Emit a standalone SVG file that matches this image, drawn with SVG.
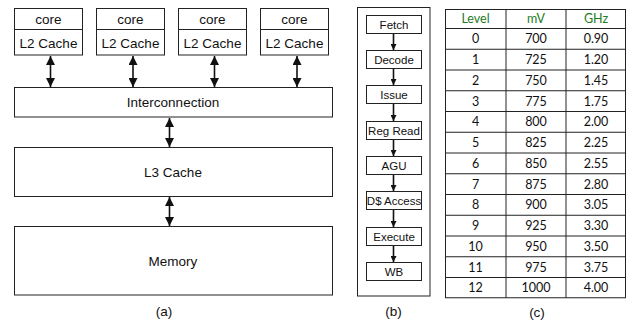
<svg xmlns="http://www.w3.org/2000/svg" width="627" height="324" viewBox="0 0 627 324">
  <style>
    .box { fill: #fff; stroke: #222; stroke-width: 1; }
    .t { font-family: "Liberation Sans", Arial, sans-serif; fill: #111; text-anchor: middle; }
    .ta { font-size: 13.5px; }
    .tb { font-size: 11.5px; }
    .cap { font-size: 13.5px; }
    .tc { font-family: Lato, "Open Sans", sans-serif; font-size: 12.5px; fill: #111; text-anchor: middle; }
    .hdr { fill: #1e7b1e; }
    .link { stroke: #111; stroke-width: 1.6; fill: none; }
    .grid { stroke: #222; stroke-width: 1; fill: none; }
  </style>
  <defs>
    <marker id="ah" viewBox="0 0 10 10" refX="10" refY="5" markerWidth="10" markerHeight="9" orient="auto-start-reverse" markerUnits="userSpaceOnUse">
      <path d="M0,0 L10,5 L0,10 z" fill="#111"/>
    </marker>
    <marker id="ahs" viewBox="0 0 10 10" refX="10" refY="5" markerWidth="7" markerHeight="6" orient="auto" markerUnits="userSpaceOnUse">
      <path d="M0,0 L10,5 L0,10 z" fill="#111"/>
    </marker>
  </defs>

  <rect width="627" height="324" fill="#fff"/>

  <!-- (a) memory hierarchy -->
  <g id="core0">
    <rect class="box" x="14.5" y="8.5" width="68" height="46.5"/>
    <line class="grid" x1="14.5" y1="29.5" x2="82.5" y2="29.5"/>
    <text class="t ta" x="48.5" y="23.5">core</text>
    <text class="t ta" x="48.5" y="47.5">L2 Cache</text>
  </g>
  <g id="core1">
    <rect class="box" x="96.5" y="8.5" width="68" height="46.5"/>
    <line class="grid" x1="96.5" y1="29.5" x2="164.5" y2="29.5"/>
    <text class="t ta" x="130.5" y="23.5">core</text>
    <text class="t ta" x="130.5" y="47.5">L2 Cache</text>
  </g>
  <g id="core2">
    <rect class="box" x="178.5" y="8.5" width="68" height="46.5"/>
    <line class="grid" x1="178.5" y1="29.5" x2="246.5" y2="29.5"/>
    <text class="t ta" x="212.5" y="23.5">core</text>
    <text class="t ta" x="212.5" y="47.5">L2 Cache</text>
  </g>
  <g id="core3">
    <rect class="box" x="260.5" y="8.5" width="68" height="46.5"/>
    <line class="grid" x1="260.5" y1="29.5" x2="328.5" y2="29.5"/>
    <text class="t ta" x="294.5" y="23.5">core</text>
    <text class="t ta" x="294.5" y="47.5">L2 Cache</text>
  </g>
  <g id="interconnect">
    <rect class="box" x="14.5" y="87.5" width="318" height="29.5"/>
    <text class="t ta" x="173" y="107">Interconnection</text>
  </g>
  <g id="l3">
    <rect class="box" x="14.5" y="147.5" width="318" height="49"/>
    <text class="t ta" x="173" y="177">L3 Cache</text>
  </g>
  <g id="memory">
    <rect class="box" x="14.5" y="226.5" width="318" height="68.5"/>
    <text class="t ta" x="173" y="265.5">Memory</text>
  </g>
  <text class="t cap" x="164" y="316">(a)</text>

  <g id="connectors-a">
    <line class="link" x1="50.5" y1="56" x2="50.5" y2="87" marker-start="url(#ah)" marker-end="url(#ah)"/>
    <line class="link" x1="133" y1="56" x2="133" y2="87" marker-start="url(#ah)" marker-end="url(#ah)"/>
    <line class="link" x1="214.5" y1="56" x2="214.5" y2="87" marker-start="url(#ah)" marker-end="url(#ah)"/>
    <line class="link" x1="297" y1="56" x2="297" y2="87" marker-start="url(#ah)" marker-end="url(#ah)"/>
    <line class="link" x1="169.5" y1="118" x2="169.5" y2="147" marker-start="url(#ah)" marker-end="url(#ah)"/>
    <line class="link" x1="169.5" y1="197" x2="169.5" y2="226" marker-start="url(#ah)" marker-end="url(#ah)"/>
  </g>

  <!-- (b) pipeline stages -->
  <rect class="box" x="357.5" y="7.5" width="72.5" height="288.5"/>
  <g id="fetch"><rect class="box" x="366.5" y="15.5" width="55" height="18"/><text class="t tb" x="394" y="28.5">Fetch</text></g>
  <g id="decode"><rect class="box" x="366.5" y="50.5" width="55" height="18"/><text class="t tb" x="394" y="63.5">Decode</text></g>
  <g id="issue"><rect class="box" x="366.5" y="85.5" width="55" height="18"/><text class="t tb" x="394" y="98.5">Issue</text></g>
  <g id="regread"><rect class="box" x="366.5" y="121.5" width="55" height="18"/><text class="t tb" x="394" y="134.5">Reg Read</text></g>
  <g id="agu"><rect class="box" x="366.5" y="156.5" width="55" height="18"/><text class="t tb" x="394" y="169.5">AGU</text></g>
  <g id="daccess"><rect class="box" x="366.5" y="191.5" width="55" height="18"/><text class="t tb" x="394" y="204.5">D$ Access</text></g>
  <g id="execute"><rect class="box" x="366.5" y="227.5" width="55" height="18"/><text class="t tb" x="394" y="240.5">Execute</text></g>
  <g id="wb"><rect class="box" x="366.5" y="262.5" width="55" height="18"/><text class="t tb" x="394" y="275.5">WB</text></g>
  <text class="t cap" x="393.5" y="316">(b)</text>

  <g id="connectors-b">
    <line class="link" stroke-width="1.2" x1="393.5" y1="34" x2="393.5" y2="50" marker-end="url(#ahs)"/>
    <line class="link" stroke-width="1.2" x1="393.5" y1="69" x2="393.5" y2="85" marker-end="url(#ahs)"/>
    <line class="link" stroke-width="1.2" x1="393.5" y1="104" x2="393.5" y2="121" marker-end="url(#ahs)"/>
    <line class="link" stroke-width="1.2" x1="393.5" y1="140" x2="393.5" y2="156" marker-end="url(#ahs)"/>
    <line class="link" stroke-width="1.2" x1="393.5" y1="175" x2="393.5" y2="191" marker-end="url(#ahs)"/>
    <line class="link" stroke-width="1.2" x1="393.5" y1="210" x2="393.5" y2="227" marker-end="url(#ahs)"/>
    <line class="link" stroke-width="1.2" x1="393.5" y1="246" x2="393.5" y2="262" marker-end="url(#ahs)"/>
  </g>

  <!-- (c) DVFS level table -->
  <g id="table">
    <rect class="grid" x="445.5" y="9.5" width="180" height="288.25"/>
    <line class="grid" x1="506" y1="9.5" x2="506" y2="297.75"/>
    <line class="grid" x1="566" y1="9.5" x2="566" y2="297.75"/>
    <g class="grid">
      <line x1="445.5" y1="28.5" x2="625.5" y2="28.5"/>
      <line x1="445.5" y1="49.25" x2="625.5" y2="49.25"/>
      <line x1="445.5" y1="70" x2="625.5" y2="70"/>
      <line x1="445.5" y1="90.75" x2="625.5" y2="90.75"/>
      <line x1="445.5" y1="111.5" x2="625.5" y2="111.5"/>
      <line x1="445.5" y1="132.25" x2="625.5" y2="132.25"/>
      <line x1="445.5" y1="153" x2="625.5" y2="153"/>
      <line x1="445.5" y1="173.75" x2="625.5" y2="173.75"/>
      <line x1="445.5" y1="194.5" x2="625.5" y2="194.5"/>
      <line x1="445.5" y1="215.25" x2="625.5" y2="215.25"/>
      <line x1="445.5" y1="236" x2="625.5" y2="236"/>
      <line x1="445.5" y1="256.75" x2="625.5" y2="256.75"/>
      <line x1="445.5" y1="277.5" x2="625.5" y2="277.5"/>
    </g>
    <text class="tc hdr" x="475.5" y="23">Level</text>
    <text class="tc hdr" x="536" y="23">mV</text>
    <text class="tc hdr" x="596" y="23">GHz</text>

    <text class="tc" x="475.5" y="43.3">0</text><text class="tc" x="536" y="43.3">700</text><text class="tc" x="596" y="43.3">0.90</text>
    <text class="tc" x="475.5" y="64">1</text><text class="tc" x="536" y="64">725</text><text class="tc" x="596" y="64">1.20</text>
    <text class="tc" x="475.5" y="84.8">2</text><text class="tc" x="536" y="84.8">750</text><text class="tc" x="596" y="84.8">1.45</text>
    <text class="tc" x="475.5" y="105.5">3</text><text class="tc" x="536" y="105.5">775</text><text class="tc" x="596" y="105.5">1.75</text>
    <text class="tc" x="475.5" y="126.3">4</text><text class="tc" x="536" y="126.3">800</text><text class="tc" x="596" y="126.3">2.00</text>
    <text class="tc" x="475.5" y="147">5</text><text class="tc" x="536" y="147">825</text><text class="tc" x="596" y="147">2.25</text>
    <text class="tc" x="475.5" y="167.8">6</text><text class="tc" x="536" y="167.8">850</text><text class="tc" x="596" y="167.8">2.55</text>
    <text class="tc" x="475.5" y="188.5">7</text><text class="tc" x="536" y="188.5">875</text><text class="tc" x="596" y="188.5">2.80</text>
    <text class="tc" x="475.5" y="209.3">8</text><text class="tc" x="536" y="209.3">900</text><text class="tc" x="596" y="209.3">3.05</text>
    <text class="tc" x="475.5" y="230">9</text><text class="tc" x="536" y="230">925</text><text class="tc" x="596" y="230">3.30</text>
    <text class="tc" x="475.5" y="250.8">10</text><text class="tc" x="536" y="250.8">950</text><text class="tc" x="596" y="250.8">3.50</text>
    <text class="tc" x="475.5" y="271.5">11</text><text class="tc" x="536" y="271.5">975</text><text class="tc" x="596" y="271.5">3.75</text>
    <text class="tc" x="475.5" y="292.3">12</text><text class="tc" x="536" y="292.3">1000</text><text class="tc" x="596" y="292.3">4.00</text>
  </g>
  <text class="t cap" x="537" y="317">(c)</text>
</svg>
